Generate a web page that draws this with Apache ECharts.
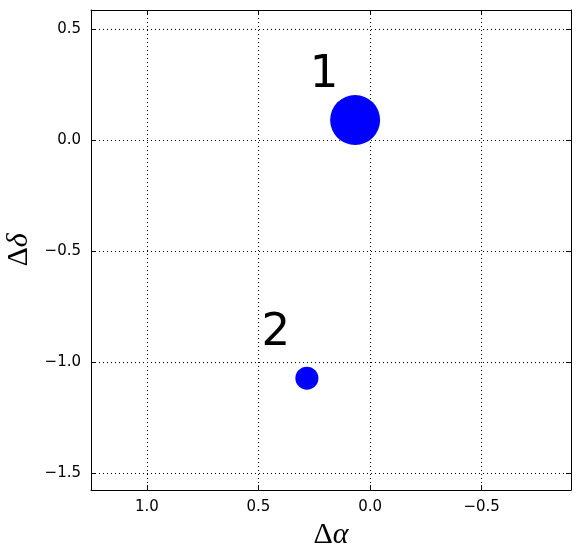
<!DOCTYPE html>
<html>
<head>
<meta charset="utf-8">
<script src="https://cdn.jsdelivr.net/npm/echarts@6/dist/echarts.min.js"></script>
<style>html,body{margin:0;padding:0;background:#fff;}#c{width:580px;height:558px;}</style>
</head>
<body>
<div id="c"></div>
<script>
const pointNames = ['1', '2'];
const deltaAlpha = [0.067, 0.283];
const deltaDelta = [0.09, -1.072];
const markerSizes = [50, 23];
const xTicks = [1.0, 0.5, 0.0, -0.5];
const yTicks = [0.5, 0.0, -0.5, -1.0, -1.5];

const fmt = v => (v < 0 ? '\u2212' : '') + Math.abs(v).toFixed(1);
const tickFont = { fontFamily: 'DejaVu Sans', fontSize: 15, color: '#000' };

const data = pointNames.map((n, i) => ({ name: n, value: [deltaAlpha[i], deltaDelta[i]], symbolSize: markerSizes[i] }));

const xBase = {
  type: 'value', min: -0.9, max: 1.25, inverse: true,
  axisLine: { show: true, onZero: false, lineStyle: { color: '#000', width: 1 } },
  axisTick: { show: true, inside: true, length: 5, customValues: xTicks, lineStyle: { color: '#000' } },
  splitLine: { show: false }
};
const yBase = {
  type: 'value', min: -1.575, max: 0.585,
  axisLine: { show: true, onZero: false, lineStyle: { color: '#000', width: 1 } },
  axisTick: { show: true, inside: true, length: 5, customValues: yTicks, lineStyle: { color: '#000' } },
  splitLine: { show: false }
};

const option = {
  animation: false,
  backgroundColor: '#fff',
  grid: { left: 91, right: 9, top: 10, bottom: 68, containLabel: false, outerBoundsMode: 'none' },
  xAxis: [
    Object.assign({}, xBase, {
      position: 'bottom',
      axisLabel: Object.assign({ show: true, margin: 10, customValues: xTicks, formatter: fmt }, tickFont),
      splitLine: { show: true, lineStyle: { color: '#000', type: [1, 3], width: 1 } },
      name: '{a|\u0394}{b|\u03b1}', nameLocation: 'middle', nameGap: 27,
      nameTextStyle: { rich: {
        a: { fontFamily: 'Liberation Serif', fontSize: 30, color: '#000' },
        b: { fontFamily: 'Liberation Serif', fontStyle: 'italic', fontSize: 30, color: '#000' }
      } }
    }),
    Object.assign({}, xBase, { position: 'top', axisLabel: { show: false } })
  ],
  yAxis: [
    Object.assign({}, yBase, {
      position: 'left',
      axisLabel: Object.assign({ show: true, margin: 10, customValues: yTicks, formatter: fmt }, tickFont),
      splitLine: { show: true, lineStyle: { color: '#000', type: [1, 3], width: 1 } },
      name: '{a|\u0394}{b|\u03b4}', nameLocation: 'middle', nameGap: 48, nameRotate: 90,
      nameTextStyle: { rich: {
        a: { fontFamily: 'Liberation Serif', fontSize: 30, color: '#000' },
        b: { fontFamily: 'Liberation Serif', fontStyle: 'italic', fontSize: 30, color: '#000' }
      } }
    }),
    Object.assign({}, yBase, { position: 'right', axisLabel: { show: false } })
  ],
  series: [{
    type: 'scatter',
    xAxisIndex: 0, yAxisIndex: 0,
    symbol: 'circle',
    itemStyle: { color: '#0000ff', opacity: 1 },
    label: {
      show: true, position: 'inside', offset: [-31, -45],
      formatter: p => p.name,
      fontFamily: 'DejaVu Sans', fontSize: 45, color: '#000'
    },
    emphasis: { disabled: true },
    data: data
  }]
};

const chart = echarts.init(document.getElementById('c'), null, { renderer: 'canvas' });
chart.setOption(option);
</script>
</body>
</html>
